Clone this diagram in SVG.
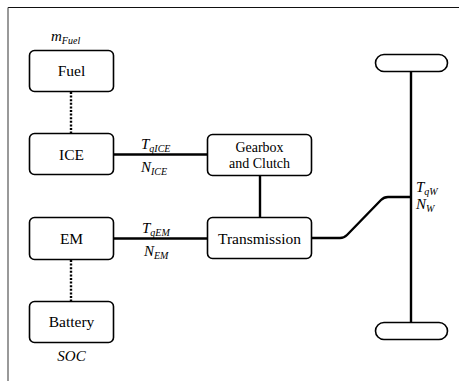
<svg xmlns="http://www.w3.org/2000/svg" width="459" height="381" viewBox="0 0 459 381">
<style>
.box{fill:#fff;stroke:#000;stroke-width:1.6}
text{font-family:'Liberation Serif','DejaVu Serif','Times New Roman',serif;fill:#000}
.t{font-size:15.5px;text-anchor:middle}
.g{font-size:14px}
.m{font-style:italic;font-size:15px}
.s{font-size:10px}
.ln{fill:none;stroke:#000;stroke-width:2.4}
.dot{fill:none;stroke:#000;stroke-width:2.4;stroke-dasharray:2 1.6}
</style>
<rect width="459" height="381" fill="#fff"/>
<line x1="8" y1="7.5" x2="459" y2="7.5" stroke="#111" stroke-width="1.2"/>
<line x1="8" y1="7.5" x2="8" y2="381" stroke="#555" stroke-width="1.2"/>
<g id="connectors">
<line class="dot" x1="71" y1="92" x2="71" y2="133"/>
<line class="dot" x1="71" y1="260" x2="71" y2="301"/>
<line class="ln" x1="113" y1="154.5" x2="207" y2="154.5"/>
<line class="ln" x1="113" y1="238.5" x2="207" y2="238.5"/>
<line class="ln" x1="260" y1="176" x2="260" y2="217"/>
<path class="ln" d="M312 238 H340 Q344 238 347 235 L381 200 Q384 197 388 197 H411"/>
<line class="ln" x1="411" y1="71" x2="411" y2="323"/>
<text class="m" x="141" y="149"><tspan>T</tspan><tspan class="s" dy="3">qICE</tspan></text>
<text class="m" x="141" y="172"><tspan>N</tspan><tspan class="s" dy="3">ICE</tspan></text>
<text class="m" x="142" y="233"><tspan>T</tspan><tspan class="s" dy="3">qEM</tspan></text>
<text class="m" x="144" y="256"><tspan>N</tspan><tspan class="s" dy="3">EM</tspan></text>
<text class="m" x="416" y="192"><tspan>T</tspan><tspan class="s" dy="3">qW</tspan></text>
<text class="m" x="416" y="209"><tspan>N</tspan><tspan class="s" dy="3">W</tspan></text>
</g>
<g id="fuel">
<rect class="box" x="29.5" y="50.5" width="84" height="41" rx="5"/>
<text class="t" x="71.5" y="76">Fuel</text>
<text class="m" x="51" y="41"><tspan>m</tspan><tspan class="s" dy="3">Fuel</tspan></text>
</g>
<g id="ice">
<rect class="box" x="29.5" y="133.5" width="84" height="41" rx="5"/>
<text class="t" x="71.5" y="159.5">ICE</text>
</g>
<g id="em">
<rect class="box" x="29.5" y="217.5" width="84" height="42" rx="5"/>
<text class="t" x="71.5" y="244">EM</text>
</g>
<g id="battery">
<rect class="box" x="29.5" y="301.5" width="84" height="41" rx="5"/>
<text class="t" x="71.5" y="327">Battery</text>
<text class="m" x="71.5" y="361" text-anchor="middle">SOC</text>
</g>
<g id="gearbox">
<rect class="box" x="207.5" y="134.5" width="104" height="41" rx="5"/>
<text class="t g" x="259.5" y="151.5">Gearbox</text>
<text class="t g" x="259.5" y="167.5">and Clutch</text>
</g>
<g id="transmission">
<rect class="box" x="207.5" y="217.5" width="104" height="41" rx="5"/>
<text class="t" x="259.5" y="243.5">Transmission</text>
</g>
<g id="wheel-top">
<rect class="box" x="375.5" y="54.5" width="72" height="17" rx="8.5"/>
</g>
<g id="wheel-bottom">
<rect class="box" x="375.5" y="322.5" width="72" height="17" rx="8.5"/>
</g>
</svg>
